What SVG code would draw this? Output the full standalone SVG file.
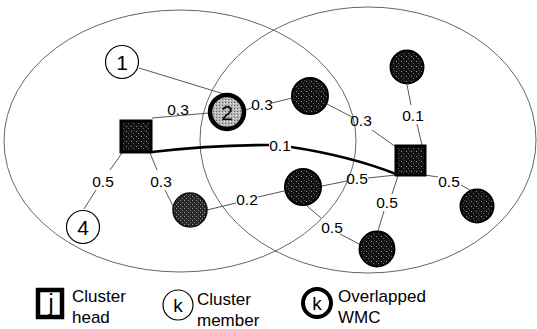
<svg xmlns="http://www.w3.org/2000/svg" width="537" height="329" viewBox="0 0 537 329">
  <defs>
    <!-- stippled fills for heads and overlapped nodes -->
    <pattern id="speckDark" width="5" height="5" patternUnits="userSpaceOnUse">
      <rect width="5" height="5" fill="#111"/>
      <rect x="1" y="1" width="1" height="1" fill="#9a9a9a"/>
      <rect x="3" y="3" width="1" height="1" fill="#6a6a6a"/>
      <rect x="4" y="0" width="1" height="1" fill="#444"/>
    </pattern>
    <pattern id="speckMid" width="4" height="4" patternUnits="userSpaceOnUse">
      <rect width="4" height="4" fill="#2a2a2a"/>
      <rect x="0" y="0" width="1" height="1" fill="#999"/>
      <rect x="2" y="2" width="1" height="1" fill="#888"/>
      <rect x="3" y="1" width="1" height="1" fill="#111"/>
    </pattern>
    <pattern id="speckLight" width="3" height="3" patternUnits="userSpaceOnUse">
      <rect width="3" height="3" fill="#b5b5b5"/>
      <rect x="0" y="0" width="1" height="1" fill="#666"/>
      <rect x="2" y="1" width="1" height="1" fill="#eee"/>
    </pattern>
  </defs>
  <style>
    .zone { fill: none; stroke: #555; stroke-width: 0.9; }
    .edge { fill: none; stroke: #444; stroke-width: 0.9; }
    .bold { fill: none; stroke: #000; stroke-width: 2.6; }
    .w { font-family: "Liberation Sans", Arial, sans-serif; font-size: 15.5px; fill: #000; text-anchor: middle; }
    .id { font-family: "Liberation Sans", Arial, sans-serif; font-size: 21px; fill: #000; text-anchor: middle; }
    .member { fill: #fff; stroke: #000; stroke-width: 1.2; }
    .wmc { fill: url(#speckDark); stroke: #000; stroke-width: 2; }
    .head { fill: url(#speckDark); stroke: #000; stroke-width: 3; }
    .leg { font-family: "Liberation Sans", Arial, sans-serif; font-size: 17px; fill: #000; }
  </style>

  <rect width="537" height="329" fill="#fff"/>

  <!-- cluster zones -->
  <g id="zones">
    <ellipse class="zone" cx="180" cy="141" rx="176" ry="131"/>
    <ellipse class="zone" cx="368" cy="140" rx="168" ry="133"/>
  </g>

  <!-- links with their weights -->
  <g id="connectors">
    <line class="edge" x1="139" y1="68" x2="224" y2="94"/>
    <line class="edge" x1="152" y1="118" x2="209" y2="113"/>
    <text class="w" x="178" y="115">0.3</text>
    <line class="edge" x1="246" y1="110" x2="253" y2="107"/>
    <line class="edge" x1="272" y1="103" x2="292" y2="98"/>
    <text class="w" x="262" y="110">0.3</text>
    <line class="edge" x1="327" y1="104" x2="352" y2="117"/>
    <line class="edge" x1="372" y1="130" x2="396" y2="147"/>
    <text class="w" x="361" y="126">0.3</text>
    <line class="edge" x1="407" y1="85" x2="411" y2="105"/>
    <line class="edge" x1="417" y1="124" x2="422" y2="145"/>
    <text class="w" x="413" y="121">0.1</text>
    <path class="bold" d="M152,152 Q212,145 269,145"/>
    <path class="bold" d="M291,147 Q350,156 396,174"/>
    <text class="w" x="280" y="151">0.1</text>
    <line class="edge" x1="122" y1="153" x2="110" y2="170"/>
    <line class="edge" x1="96" y1="190" x2="84" y2="209"/>
    <text class="w" x="103" y="187">0.5</text>
    <line class="edge" x1="150" y1="153" x2="157" y2="170"/>
    <line class="edge" x1="165" y1="190" x2="174" y2="208"/>
    <text class="w" x="161" y="187">0.3</text>
    <line class="edge" x1="207" y1="210" x2="236" y2="203"/>
    <line class="edge" x1="258" y1="197" x2="284" y2="191"/>
    <text class="w" x="247" y="205">0.2</text>
    <line class="edge" x1="322" y1="186" x2="347" y2="181"/>
    <line class="edge" x1="368" y1="178" x2="396" y2="175"/>
    <text class="w" x="357" y="184">0.5</text>
    <line class="edge" x1="307" y1="206" x2="321" y2="218"/>
    <line class="edge" x1="340" y1="234" x2="361" y2="245"/>
    <text class="w" x="332" y="233">0.5</text>
    <line class="edge" x1="398" y1="176" x2="392" y2="194"/>
    <line class="edge" x1="384" y1="211" x2="378" y2="231"/>
    <text class="w" x="387" y="208">0.5</text>
    <line class="edge" x1="425" y1="175" x2="438" y2="177"/>
    <line class="edge" x1="461" y1="185" x2="470" y2="190"/>
    <text class="w" x="449" y="187">0.5</text>
  </g>

  <!-- cluster heads -->
  <g id="head-left"><rect class="head" x="121" y="121" width="30" height="31"/></g>
  <g id="head-right"><rect class="head" x="396" y="146" width="29" height="29"/></g>

  <!-- members -->
  <g id="node-1">
    <circle class="member" cx="122" cy="62" r="16.5"/>
    <text class="id" x="122" y="69.5">1</text>
  </g>
  <g id="node-2">
    <circle cx="227" cy="112" r="17" fill="url(#speckLight)" stroke="#000" stroke-width="4.5"/>
    <text class="id" x="227" y="119.5">2</text>
  </g>
  <g id="node-3"><circle cx="190" cy="210" r="17" fill="url(#speckMid)" stroke="#111" stroke-width="1.5"/></g>
  <g id="node-4">
    <circle class="member" cx="83" cy="227" r="16.5"/>
    <text class="id" x="83" y="234.5">4</text>
  </g>
  <g id="node-5"><circle class="wmc" cx="310" cy="96" r="18"/></g>
  <g id="node-6"><circle class="wmc" cx="407" cy="67" r="16.5"/></g>
  <g id="node-7"><circle class="wmc" cx="303" cy="187" r="18"/></g>
  <g id="node-8"><circle class="wmc" cx="377" cy="249" r="17.5"/></g>
  <g id="node-9"><circle class="wmc" cx="477" cy="206" r="16.5"/></g>

  <!-- legend -->
  <g id="legend-head">
    <rect x="38" y="290" width="24" height="27" fill="#fff" stroke="#000" stroke-width="4.5"/>
    <text x="51" y="311" font-family="Liberation Sans, Arial, sans-serif" font-size="23" text-anchor="middle">j</text>
    <text class="leg" x="72" y="302">Cluster</text>
    <text class="leg" x="72" y="323">head</text>
  </g>
  <g id="legend-member">
    <circle cx="178" cy="305" r="15" fill="#fff" stroke="#000" stroke-width="1.2"/>
    <text x="178" y="312" font-family="Liberation Sans, Arial, sans-serif" font-size="19" text-anchor="middle">k</text>
    <text class="leg" x="197" y="305">Cluster</text>
    <text class="leg" x="197" y="326">member</text>
  </g>
  <g id="legend-wmc">
    <circle cx="317" cy="303" r="14" fill="#fff" stroke="#000" stroke-width="4"/>
    <text x="317" y="310" font-family="Liberation Sans, Arial, sans-serif" font-size="19" text-anchor="middle">k</text>
    <text class="leg" x="338" y="302">Overlapped</text>
    <text class="leg" x="338" y="323">WMC</text>
  </g>
</svg>
